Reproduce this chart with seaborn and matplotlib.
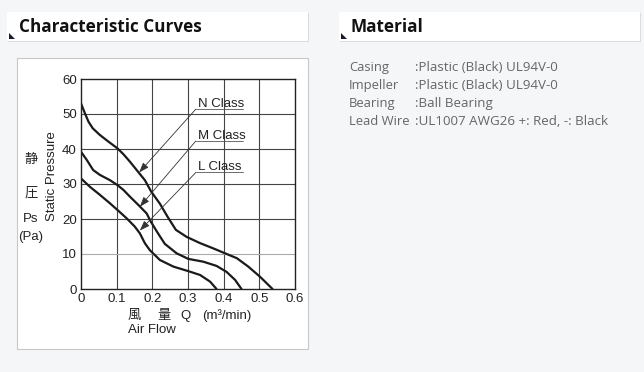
"""Fan characteristic curves (static pressure vs air flow) with material table."""

import seaborn as sns
import matplotlib.pyplot as plt
import pandas as pd
from matplotlib.patches import Rectangle, Polygon

# --- data ---
n_flow = [0, 0.011, 0.021, 0.033, 0.053, 0.077, 0.102, 0.119, 0.137, 0.156, 0.179, 0.197,
          0.221, 0.243, 0.266, 0.296, 0.334, 0.371, 0.399, 0.437, 0.469, 0.502, 0.537]
n_pres = [53, 50.2, 47.8, 45.9, 44, 42.1, 40.2, 38.5, 36.4, 34, 31.1, 27.8,
          24.4, 20.6, 16.9, 14.9, 13.1, 11.6, 10.4, 8.8, 6.4, 3.5, 0]

m_flow = [0, 0.016, 0.034, 0.053, 0.081, 0.102, 0.119, 0.137, 0.161, 0.184, 0.196, 0.214,
          0.235, 0.268, 0.301, 0.343, 0.38, 0.408, 0.432, 0.45]
m_pres = [39.2, 36.9, 34, 32.6, 31.1, 29.7, 28.3, 26.4, 24, 21.6, 19.2, 16.2,
          12.9, 10.2, 8.6, 7.8, 6.6, 4.9, 2.6, 0]

l_flow = [0, 0.025, 0.053, 0.081, 0.102, 0.128, 0.151, 0.165, 0.179, 0.193, 0.221, 0.259,
          0.301, 0.334, 0.362, 0.38]
l_pres = [31.6, 29.2, 26.9, 24.5, 22.6, 20.2, 17.8, 15.9, 13.1, 11.1, 8.3, 6.4,
          5.1, 4, 2.1, 0]

classes = ["N Class", "M Class", "L Class"]
x_ticks = [0, 0.1, 0.2, 0.3, 0.4, 0.5, 0.6]
y_ticks = [0, 10, 20, 30, 40, 50, 60]

material_keys = ["Casing", "Impeller", "Bearing", "Lead Wire"]
material_vals = [":Plastic (Black) UL94V-0", ":Plastic (Black) UL94V-0",
                 ":Ball Bearing", ":UL1007 AWG26 +: Red, -: Black"]

df = pd.concat([
    pd.DataFrame({"flow": n_flow, "pressure": n_pres, "cls": classes[0]}),
    pd.DataFrame({"flow": m_flow, "pressure": m_pres, "cls": classes[1]}),
    pd.DataFrame({"flow": l_flow, "pressure": l_pres, "cls": classes[2]}),
])

sns.set_theme(style="white")
plt.rcParams["font.family"] = ["Liberation Sans", "Noto Sans CJK JP", "DejaVu Sans"]

W, H = 644, 372
fig = plt.figure(figsize=(W / 100, H / 100), dpi=100)
fig.patch.set_facecolor("#f5f6f8")


def fx(px):
    return px / W


def fy(py):
    return 1 - py / H


def rect(x0, y0, x1, y1, **kw):
    fig.add_artist(Rectangle((fx(x0), fy(y1)), fx(x1) - fx(x0), fy(y0) - fy(y1),
                             transform=fig.transFigure, zorder=-5, **kw))


# header bars
for x0, x1, title in [(7, 308, "Characteristic Curves"), (339, 640, "Material")]:
    rect(x0 + 1, 13, x1 + 1, 42, facecolor="#dcdcdc", edgecolor="none")
    rect(x0, 12, x1, 41, facecolor="white", edgecolor="none")
    fig.add_artist(Polygon([(fx(x0 + 2), fy(33)), (fx(x0 + 2), fy(39)), (fx(x0 + 8), fy(39))],
                           transform=fig.transFigure, facecolor="#1a1a2e", edgecolor="none"))
    fig.text(fx(x0 + 12), fy(31.5), title, fontsize=12.3, fontweight="bold", color="#111111",
             va="baseline", ha="left", family=["Open Sans", "DejaVu Sans"])

# chart panel
rect(17, 58, 308, 349, facecolor="white", edgecolor="#c8c8c8", linewidth=0.8)

# material text
for i, (k, v) in enumerate(zip(material_keys, material_vals)):
    y = fy(71 + i * 18)
    fig.text(fx(349), y, k, fontsize=9.4, color="#666666", va="baseline", family=["Open Sans", "DejaVu Sans"])
    fig.text(fx(415), y, v, fontsize=9.6, color="#666666", va="baseline", family=["Open Sans", "DejaVu Sans"])

# main axes
ax = fig.add_axes([fx(81), fy(289), fx(295) - fx(81), fy(79) - fy(289)])
ax.set_zorder(5)
ax.set_facecolor("white")
sns.lineplot(data=df, x="flow", y="pressure", units="cls", estimator=None, sort=False,
             color="#1a1a1a", linewidth=1.6, ax=ax)

ax.set_xlim(0, 0.6)
ax.set_ylim(0, 60)
ax.set_xticks(x_ticks)
ax.set_yticks(y_ticks)
ax.set_xticklabels([str(t) for t in x_ticks])
ax.set_yticklabels([str(t) for t in y_ticks])
ax.tick_params(length=0, labelsize=9.5, colors="#222222", pad=3)
for t in x_ticks[1:-1]:
    ax.axvline(t, color="#444444", linewidth=0.8, zorder=0)
for t in y_ticks[1:-1]:
    ax.axhline(t, color="#aaaaaa" if t == 10 else "#444444", linewidth=0.8, zorder=0)
for s in ax.spines.values():
    s.set_color("#222222")
    s.set_linewidth(1.0)
ax.set_xlabel("")
ax.set_ylabel("")

# class callouts
label_y = [51.4, 42.3, 33.3]
tips = [(0.163, 33.3), (0.165, 23.5), (0.165, 16.7)]
for name, ly, tip in zip(classes, label_y, tips):
    ax.plot([0.322, 0.454], [ly, ly], color="#555555", linewidth=0.6)
    ax.text(0.328, ly + 0.6, name, fontsize=9.5, color="#222222", va="baseline", ha="left")
    ax.annotate("", xy=tip, xytext=(0.322, ly),
                arrowprops=dict(arrowstyle="-|>,head_length=0.5,head_width=0.18",
                                color="#333333", linewidth=0.6, shrinkA=0, shrinkB=0))

# axis titles
fig.text(fx(52), fy(176), "Static Pressure", rotation=90, fontsize=9.5, color="#222222",
         ha="center", va="center")
for txt, py in [("静", 160), ("圧", 193), ("Ps", 219), ("(Pa)", 237)]:
    fig.text(fx(31), fy(py), txt, fontsize=9.5, color="#222222", ha="center", va="center")
for txt, px in [("風", 128), ("量", 157), ("Q", 180), ("(m³/min)", 202)]:
    fig.text(fx(px), fy(316), txt, fontsize=9.5, color="#222222", ha="left", va="center")
fig.text(fx(128), fy(330), "Air Flow", fontsize=9.5, color="#222222", ha="left", va="center")

fig.savefig("out.png", dpi=100)
